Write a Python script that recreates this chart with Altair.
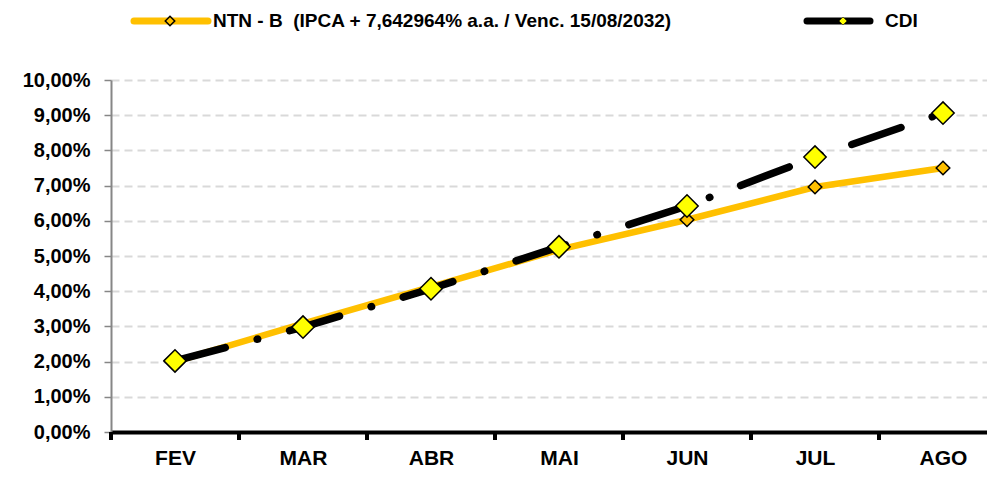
import altair as alt
import pandas as pd

# ---- data ----
months = ["FEV", "MAR", "ABR", "MAI", "JUN", "JUL", "AGO"]
ntnb = [2.00, 3.08, 4.12, 5.18, 6.03, 6.96, 7.50]      # % acumulado
cdi = [2.02, 2.98, 4.07, 5.26, 6.42, 7.81, 9.06]       # % acumulado
series_names = ["NTN - B\u00a0 (IPCA + 7,642964% a.a. / Venc. 15/08/2032)", "CDI"]
y_ticks = list(range(0, 11))

ORANGE = "#FFC000"
YELLOW = "#FFFF00"
FONT = "Liberation Sans"

df = pd.DataFrame({"idx": list(range(len(months))), "month": months,
                   "ntnb": ntnb, "cdi": cdi})
bounds = pd.DataFrame({"b": [i - 0.5 for i in range(len(months))]})
one = pd.DataFrame({"k": [0]})

W, H = 876, 352
xscale = alt.Scale(domain=[-0.5, len(months) - 0.5], range=[0, 896], nice=False, zero=False)
yscale = alt.Scale(domain=[0, 10], nice=False, zero=True)

label_arr = "[" + ",".join(f"'{m}'" for m in months) + "]"
xaxis = alt.Axis(values=list(range(len(months))), labelExpr=f"{label_arr}[round(datum.value)]",
                 ticks=False, grid=False, title=None, domainColor="black", domainWidth=4,
                 labelFont=FONT, labelFontSize=21, labelFontWeight="bold", labelColor="black",
                 labelPadding=15, labelBaseline="top")
yaxis = alt.Axis(values=y_ticks, labelExpr="replace(format(datum.value, '.2f'), '.', ',') + '%'",
                 title=None, grid=True, gridDash=[8, 5], gridColor="#d9d9d9", gridWidth=2,
                 domainColor="#868686", domainWidth=2, tickColor="#868686", tickSize=7,
                 tickWidth=1.5, labelFont=FONT, labelFontSize=20, labelFontWeight="bold",
                 labelColor="black", labelPadding=14)

X = alt.X("idx:Q", scale=xscale, axis=xaxis)

ticks = alt.Chart(bounds).mark_rule(color="black", strokeWidth=4).encode(
    x=alt.X("b:Q", scale=xscale, axis=xaxis),
    y=alt.value(H), y2=alt.value(H + 8))

base = alt.Chart(df)
ntn_line = base.mark_line(color=ORANGE, strokeWidth=6.5, strokeCap="round", strokeJoin="round").encode(
    x=X, y=alt.Y("ntnb:Q", scale=yscale, axis=yaxis))
ntn_pts = base.mark_point(shape="diamond", filled=True, fill=ORANGE, stroke="black",
                          strokeWidth=1.5, size=185, opacity=1).encode(
    x=X, y=alt.Y("ntnb:Q", scale=yscale, axis=yaxis))
cdi_line = base.mark_line(color="black", strokeWidth=7.5, strokeCap="round",
                          strokeDash=[52, 33, 0.5, 33]).encode(
    x=X, y=alt.Y("cdi:Q", scale=yscale, axis=yaxis))
cdi_pts = base.mark_point(shape="diamond", filled=True, fill=YELLOW, stroke="black",
                          strokeWidth=1.5, size=500, opacity=1).encode(
    x=X, y=alt.Y("cdi:Q", scale=yscale, axis=yaxis))

LY = -59
leg = alt.Chart(one)
leg_layers = [
    leg.mark_rule(color=ORANGE, strokeWidth=7, strokeCap="round").encode(
        x=alt.value(23), x2=alt.value(97), y=alt.value(LY)),
    leg.mark_point(shape="diamond", filled=True, fill=ORANGE, stroke="black", strokeWidth=1.5,
                   size=90, opacity=1).encode(x=alt.value(59), y=alt.value(LY)),
    leg.mark_text(align="left", baseline="middle", font=FONT, fontSize=19, fontWeight="bold",
                  color="black").encode(x=alt.value(102), y=alt.value(LY),
                                        text=alt.value(series_names[0])),
    leg.mark_rule(color="black", strokeWidth=7, strokeCap="round").encode(
        x=alt.value(696), x2=alt.value(759), y=alt.value(LY)),
    leg.mark_point(shape="diamond", filled=True, fill=YELLOW, stroke="black", strokeWidth=0.5,
                   size=64, opacity=1).encode(x=alt.value(732), y=alt.value(LY)),
    leg.mark_text(align="left", baseline="middle", font=FONT, fontSize=19, fontWeight="bold",
                  color="black").encode(x=alt.value(774), y=alt.value(LY),
                                        text=alt.value(series_names[1])),
]

chart = alt.layer(ticks, ntn_line, ntn_pts, cdi_line, cdi_pts, *leg_layers).properties(
    width=W, height=H,
    autosize=alt.AutoSizeParams(type="none"),
    padding={"left": 103, "top": 72, "right": 0, "bottom": 38},
    background="white",
).configure_view(stroke=None)

chart.save("out.html", embed_options={"renderer": "svg", "actions": False})
